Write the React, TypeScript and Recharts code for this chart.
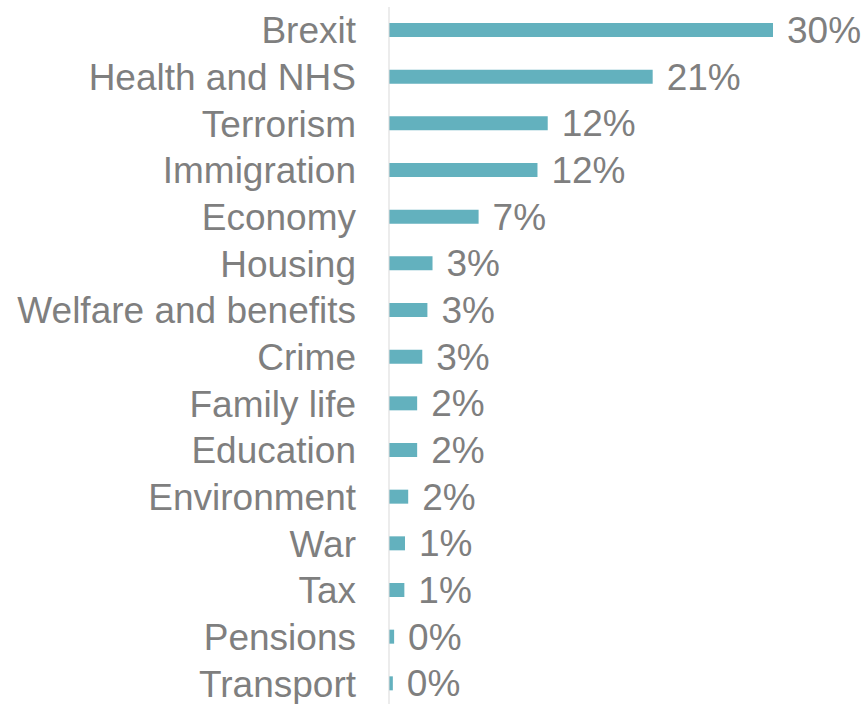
import { BarChart, Bar, XAxis, YAxis, LabelList } from "recharts";

const categories = [
  "Brexit",
  "Health and NHS",
  "Terrorism",
  "Immigration",
  "Economy",
  "Housing",
  "Welfare and benefits",
  "Crime",
  "Family life",
  "Education",
  "Environment",
  "War",
  "Tax",
  "Pensions",
  "Transport",
];

const shares = [30, 20.6, 12.4, 11.6, 7.0, 3.4, 3.0, 2.6, 2.2, 2.2, 1.5, 1.25, 1.2, 0.4, 0.3];

const data = categories.map((name, i) => ({ name, value: shares[i] }));

const FONT = "'Liberation Sans', Arial, sans-serif";
const GREY = "#7f7f7f";

export default function App() {
  return (
    <div style={{ position: "absolute", left: 0, top: 0, width: 868, height: 704, background: "#fff", overflow: "hidden" }}>
      <BarChart
        width={868}
        height={710}
        data={data}
        layout="vertical"
        margin={{ top: 7, right: 95, bottom: 3, left: 0 }}
      >
        <XAxis type="number" hide domain={[0, 30]} />
        <YAxis
          type="category"
          dataKey="name"
          width={389}
          tickLine={false}
          tickSize={0}
          tickMargin={33}
          axisLine={{ stroke: "#d9d9d9", strokeWidth: 1 }}
          tick={{ fill: GREY, fontSize: 37, fontFamily: FONT }}
          interval={0}
        />
        <Bar dataKey="value" fill="#63b1be" barSize={14} isAnimationActive={false}>
          <LabelList
            dataKey="value"
            position="right"
            offset={14}
            formatter={(v: number) => `${Math.round(v)}%`}
            style={{ fill: GREY, fontSize: 37, fontFamily: FONT }}
          />
        </Bar>
      </BarChart>
    </div>
  );
}
